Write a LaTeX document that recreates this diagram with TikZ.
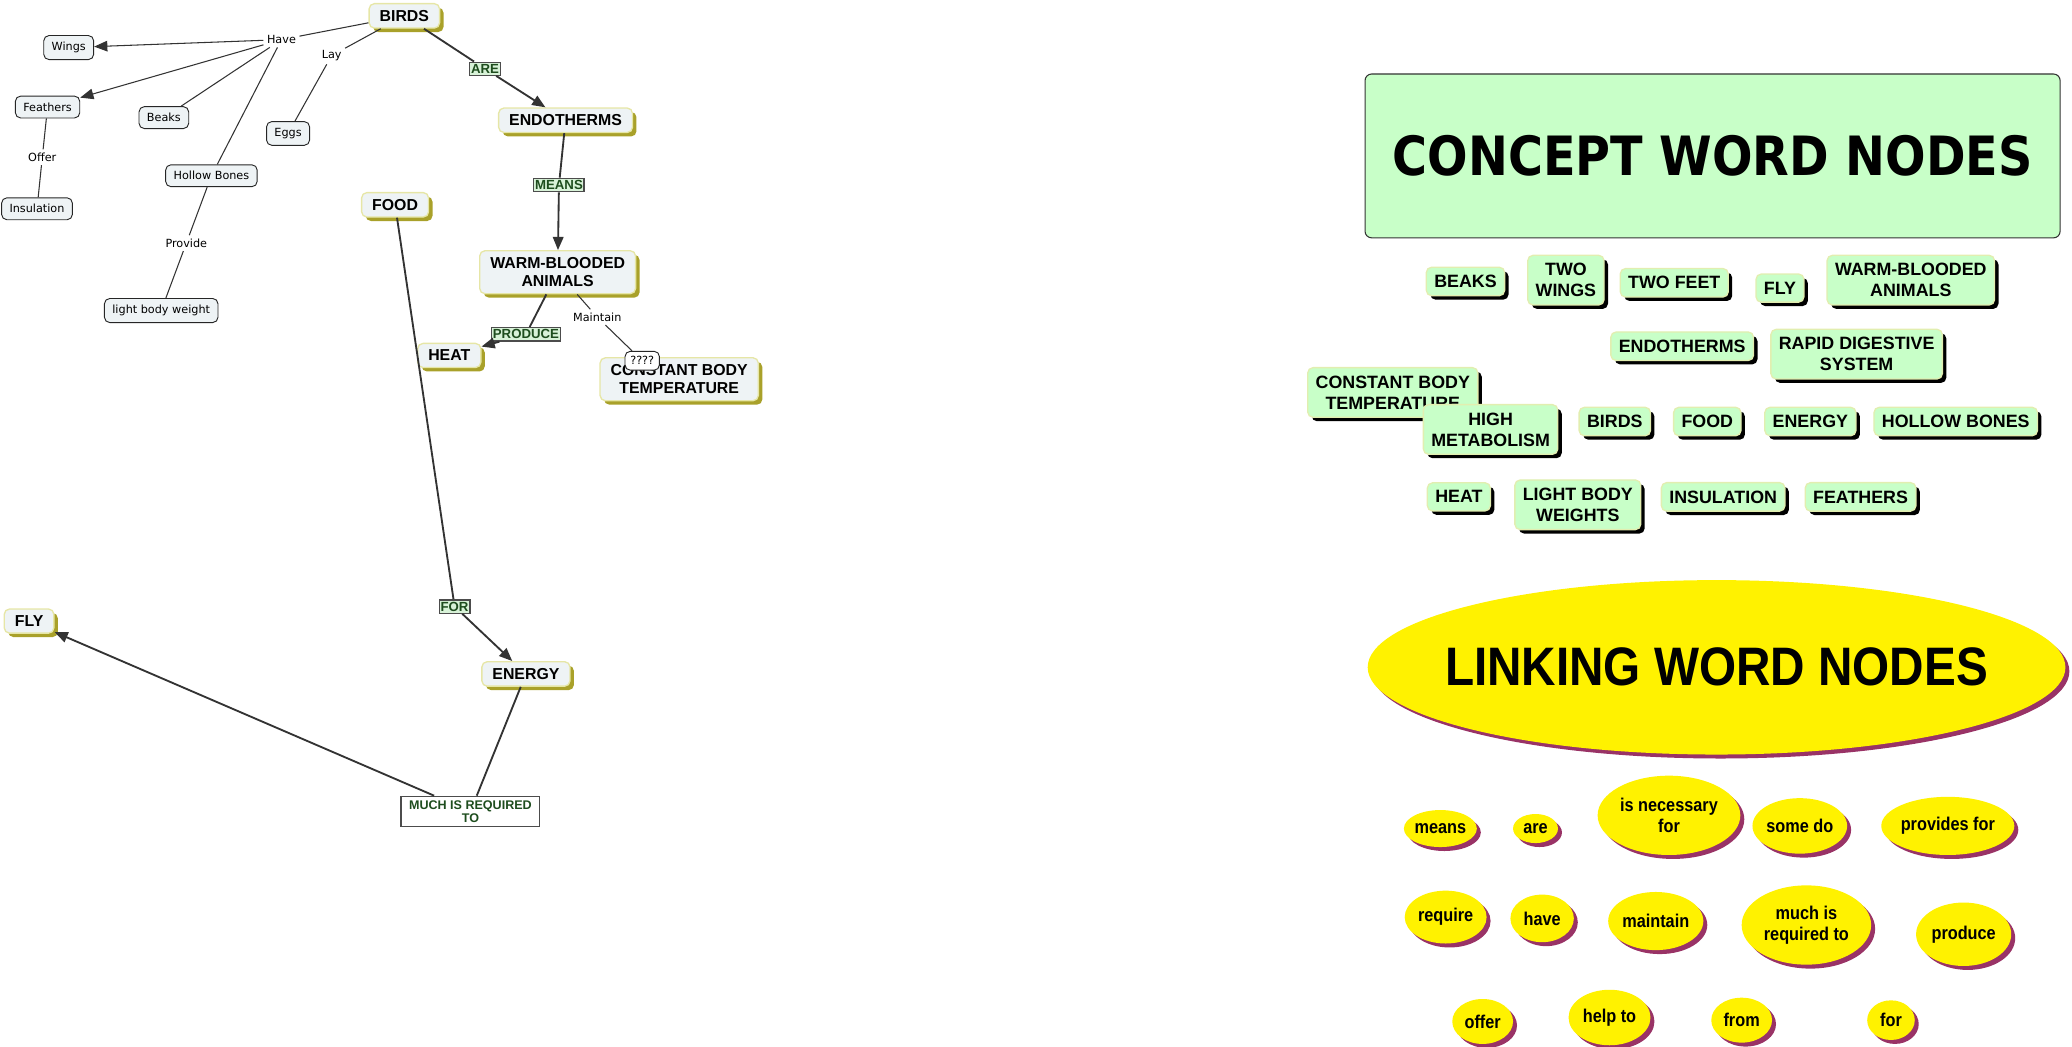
\documentclass[tikz,border=0pt]{standalone}
\usepackage{fontspec}
\setmainfont{Liberation Sans}
\newfontfamily\vfont{DejaVu Sans}
\newfontfamily\cwfont[FakeStretch=0.88]{DejaVu Sans}
\newfontfamily\nfont[FakeStretch=0.88]{Liberation Sans}
\usetikzlibrary{arrows.meta,shapes.geometric,shadows}
\definecolor{nodefill}{HTML}{EEF3F5}
\definecolor{nodeedge}{HTML}{E6E6A6}
\definecolor{oliveshade}{HTML}{A9A12A}
\definecolor{linkgreen}{HTML}{1E4D1E}
\definecolor{linkfill}{HTML}{D8F2D8}
\definecolor{cwfill}{HTML}{C8FFC8}
\definecolor{cwedge}{HTML}{E2EEB0}
\definecolor{lwshade}{HTML}{993366}
\definecolor{linecol}{HTML}{333333}

\begin{document}
\begin{tikzpicture}[x=1pt,y=-1pt,
  concept/.style={draw=nodeedge,fill=nodefill,rounded corners=4pt,line width=1pt,align=center,
    font=\bfseries\fontsize{12}{14}\selectfont,inner xsep=8pt,inner ysep=5pt,
    drop shadow={shadow xshift=3pt,shadow yshift=-3pt,fill=oliveshade,opacity=1}},
  smallbox/.style={draw=black!85,fill=nodefill,rounded corners=4pt,line width=0.7pt,
    font=\vfont\fontsize{8.5}{10}\selectfont,inner xsep=6pt,inner ysep=5pt},
  linkbox/.style={draw=black!70,fill=linkfill,line width=1pt,text=linkgreen,
    font=\bfseries\fontsize{10}{10}\selectfont,inner xsep=1pt,inner ysep=1.5pt},
  linktext/.style={font=\vfont\fontsize{8.5}{10}\selectfont,inner sep=2.5pt},
  thickline/.style={draw=linecol,line width=1.4pt},
  thinline/.style={draw=linecol,line width=0.8pt},
  tip/.style={-{Triangle[length=10pt,width=8pt]}},
  cword/.style={draw=cwedge,fill=cwfill,rounded corners=4pt,line width=1pt,align=center,
    font=\bfseries\fontsize{13.5}{16}\selectfont,inner xsep=6pt,inner ysep=6pt,
    drop shadow={shadow xshift=3pt,shadow yshift=-3pt,fill=black,opacity=1}},
  lword/.style={ellipse,fill=yellow,inner sep=0pt,align=center,
    font=\nfont\bfseries\fontsize{14}{16}\selectfont,
    drop shadow={shadow xshift=3pt,shadow yshift=-3pt,fill=lwshade,opacity=1}}]
\useasboundingbox (0,0) rectangle (1568,792);

% concept map
\node[concept] (birds) at (306,12) {BIRDS};
\node[concept] (endo) at (428,91) {ENDOTHERMS};
\node[concept] (food) at (299,155) {FOOD};
\node[concept] (warm) at (422,206) {WARM-BLOODED\\ANIMALS};
\node[concept] (heat) at (340,269) {HEAT};
\node[concept] (const) at (514,287) {CONSTANT BODY\\TEMPERATURE};
\node[concept] (energy) at (398,510) {ENERGY};
\node[concept] (fly) at (22,470) {FLY};

\node[smallbox] (wings) at (52,36) {Wings};
\node[smallbox] (feathers) at (36,81) {Feathers};
\node[smallbox] (beaks) at (124,89) {Beaks};
\node[smallbox] (eggs) at (218,101) {Eggs};
\node[smallbox] (hollow) at (160,133) {Hollow Bones};
\node[smallbox] (insul) at (28,158) {Insulation};
\node[smallbox] (light) at (122,235) {light body weight};
\node[smallbox,fill=white,inner xsep=4pt,inner ysep=4pt] (qq) at (486,273) {????};

\node[linktext] (have) at (213,30) {Have};
\node[linktext] (lay) at (251,42) {Lay};
\node[linktext] (offer) at (32,119) {Offer};
\node[linktext] (provide) at (141,184) {Provide};
\node[linktext] (maintain) at (452,240) {Maintain};

\node[linkbox] (are) at (367,52) {ARE};
\node[linkbox] (means) at (423,140) {MEANS};
\node[linkbox] (produce) at (398,253) {PRODUCE};
\node[linkbox] (for) at (344,459) {FOR};
\node[linkbox,fill=white,align=center,inner xsep=6pt,inner ysep=3pt,
  font=\bfseries\fontsize{9.5}{10}\selectfont] (much) at (356,614) {MUCH IS REQUIRED\\TO};

\draw[thinline] (birds) -- (have);
\draw[thinline,tip] (have) -- (wings);
\draw[thinline,tip] (have) -- (feathers);
\draw[thinline] (have) -- (beaks);
\draw[thinline] (have) -- (hollow);
\draw[thinline] (birds) -- (lay);
\draw[thinline] (lay) -- (eggs);
\draw[thinline] (feathers) -- (offer);
\draw[thinline] (offer) -- (insul);
\draw[thinline] (hollow) -- (provide);
\draw[thinline] (provide) -- (light);
\draw[thinline] (warm) -- (maintain);
\draw[thinline] (maintain) -- (qq);

\draw[thickline] (birds) -- (are);
\draw[thickline,tip] (are) -- (endo);
\draw[thickline] (endo) -- (means);
\draw[thickline,tip] (means) -- (warm);
\draw[thickline] (warm) -- (produce);
\draw[thickline,tip] (produce) -- (heat);
\draw[thickline] (food) -- (for);
\draw[thickline,tip] (for) -- (energy);
\draw[thickline] (energy) -- (much);
\draw[thickline,tip] (much) -- (fly);

% concept word nodes
\node[draw=black!80,fill=cwfill,rounded corners=5pt,line width=0.8pt,
  minimum width=526pt,minimum height=124pt,
  font=\cwfont\bfseries\fontsize{41}{41}\selectfont] (cwtitle) at (1296,118) {CONCEPT WORD NODES};
\foreach \n/\x/\y/\t in {beaks/1109/213/BEAKS, twowings/1185/212/{TWO\\WINGS},
  twofeet/1267/214/TWO FEET, fly/1347/218/FLY, warm/1446/212/{WARM-BLOODED\\ANIMALS},
  endo/1273/262/ENDOTHERMS, rapid/1405/268/{RAPID DIGESTIVE\\SYSTEM},
  const/1054/297/{CONSTANT BODY\\TEMPERATURE}, high/1128/325/{HIGH\\METABOLISM},
  birds/1222/319/BIRDS, food/1292/319/FOOD, energy/1370/319/ENERGY,
  hollow/1480/319/HOLLOW BONES, heat/1104/376/HEAT, light/1194/382/{LIGHT BODY\\WEIGHTS},
  insul/1304/376/INSULATION, feath/1408/376/FEATHERS}
  \node[cword] (cw-\n) at (\x,\y) {\t};

% linking word nodes
\node[ellipse,fill=yellow,inner sep=0pt,minimum width=528pt,minimum height=132pt,
  drop shadow={shadow xshift=3pt,shadow yshift=-3pt,fill=lwshade,opacity=1}] (lwtitle) at (1299,505) {};
\node[font=\nfont\bfseries\fontsize{41}{41}\selectfont] (lwtext) at (lwtitle) {LINKING WORD NODES};
\foreach \n/\x/\y/\w/\h/\t in {means/1090/627/54/28/means, are/1162/627/34/22/are,
  necessary/1263/617/108/60/{is necessary\\for}, somedo/1362/625/70/42/some do,
  provides/1474/625/96/44/provides for, require/1094/694/62/40/require,
  have/1167/695/48/36/have, maintain/1253/697/72/44/maintain,
  much/1367/700/98/60/{much is\\required to}, produce/1486/707/72/48/produce,
  offer/1122/773/46/34/offer, helpto/1218/770/62/42/help to,
  from/1318/772/46/34/from, for/1431/772/36/30/for}
  \node[lword,minimum width=\w pt,minimum height=\h pt] (lw-\n) at (\x,\y) {\t};
\end{tikzpicture}
\end{document}
